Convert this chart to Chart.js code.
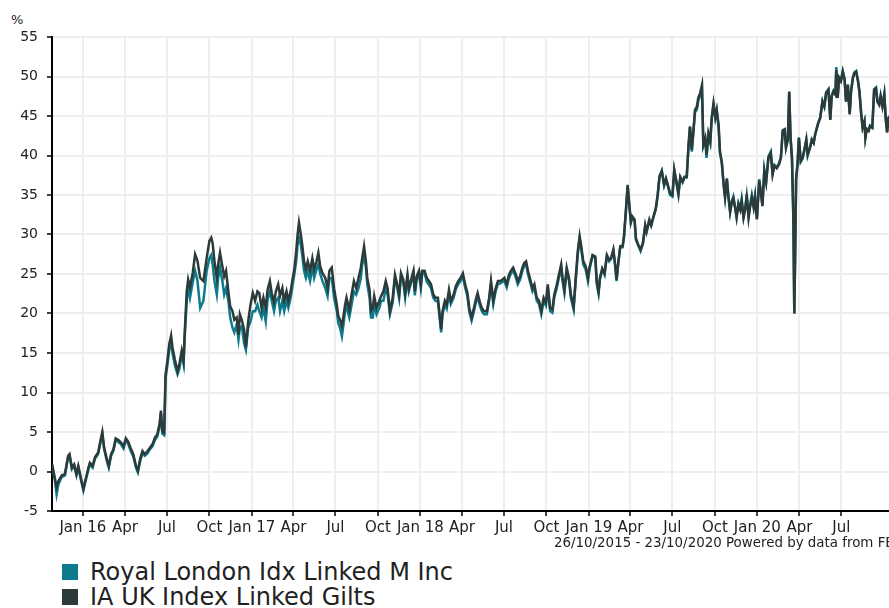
<!DOCTYPE html>
<html>
<head>
<meta charset="utf-8">
<script src="https://cdn.jsdelivr.net/npm/chart.js@4.4.1/dist/chart.umd.min.js"></script>
<style>
  body { margin: 0; width: 889px; height: 608px; overflow: hidden; position: relative; background: #fff; font-family: "DejaVu Sans", Verdana, sans-serif; color: #222; }
  #pct { position: absolute; left: 11px; top: 12px; font-size: 13px; }
  #wrap { position: absolute; left: 0; top: 0; }
  #footer { position: absolute; left: 554px; top: 535px; font-size: 13.4px; white-space: nowrap; }
  .leg { position: absolute; left: 62px; font-size: 24px; white-space: nowrap; display: flex; align-items: center; height: 24px; }
  .leg span.box { display: inline-block; width: 16px; height: 16px; margin-right: 12px; }
</style>
</head>
<body>
<div id="pct">%</div>
<div id="wrap"><canvas id="perfChart" width="900" height="540"></canvas></div>
<div id="footer">26/10/2015 - 23/10/2020 Powered by data from FE</div>
<div class="leg" style="top:560px"><span class="box" style="background:#0e7b8c"></span>Royal London Idx Linked M Inc</div>
<div class="leg" style="top:585px"><span class="box" style="background:#2c3a3a"></span>IA UK Index Linked Gilts</div>
<script>
// days since 26/10/2015
const dayOffsets = [
  0, 6, 10, 14, 21, 28, 35, 38, 43, 48, 53, 57, 64, 68, 72, 79, 82, 88, 93, 100,
  105, 109, 113, 118, 123, 128, 133, 138, 144, 149, 155, 160, 165, 170, 176, 182, 186, 191, 196, 201,
  207, 212, 218, 223, 228, 233, 236, 239, 243, 246, 250, 254, 258, 261, 266, 272, 276, 281, 285, 288,
  292, 295, 299, 305, 310, 315,
  321, 328, 335, 341, 345, 348, 352, 357, 360, 364, 369, 373, 377, 382, 386, 391, 395, 400, 404, 407,
  411, 416, 420, 425, 430, 435, 440, 445, 449, 454, 458, 463, 467, 472, 476, 481, 485, 490, 494, 499,
  503, 508, 512, 517, 521, 525, 529, 532, 535, 539, 542, 546, 550, 554, 559, 564, 568, 573, 577, 581,
  586, 592, 597, 601, 606, 611, 617, 620, 624, 628, 631, 635, 638, 644, 649, 654, 659, 664, 669, 672,
  676, 680, 683, 688, 691, 695, 698, 703, 709, 713, 718, 723, 727,
  732, 738, 743, 747, 752, 756, 761, 765, 770, 773, 778, 783, 786, 790, 795, 799, 802, 807, 812, 817,
  821, 826, 831, 836, 839, 843, 846, 851, 855, 860, 864, 870, 875, 880, 885, 890, 895, 900, 904, 909,
  914, 919, 922, 927, 931, 936, 942, 947, 951, 956, 961, 966, 971, 976, 980, 985, 990, 994, 999, 1005,
  1009, 1014, 1019, 1023, 1027, 1031, 1036, 1041, 1045, 1050, 1055, 1060, 1065, 1070, 1074, 1079, 1084, 1088, 1093, 1098,
  1103, 1106, 1110, 1115, 1120, 1124, 1130, 1135, 1139, 1143, 1146, 1151, 1156, 1161, 1164,
  1166, 1171, 1177, 1180, 1184, 1187, 1192, 1197, 1202, 1207, 1211, 1216, 1220, 1223, 1227, 1231, 1236, 1239, 1243, 1247,
  1250, 1254, 1257, 1262, 1265, 1270, 1275, 1280, 1285, 1288, 1294, 1298, 1303, 1308, 1312, 1316, 1321, 1326, 1330, 1335,
  1339, 1344, 1348, 1352, 1357, 1361, 1366, 1370, 1375, 1379, 1382, 1386, 1390, 1393, 1397, 1400, 1404, 1408, 1411, 1415,
  1418, 1422, 1426, 1429, 1433, 1437, 1440, 1444, 1447, 1451, 1455, 1458, 1462, 1465, 1469, 1473, 1476, 1480, 1483, 1487,
  1491, 1494, 1498, 1502, 1505, 1509,
  1512, 1516, 1520, 1523, 1527, 1532, 1536, 1539, 1543, 1547, 1552, 1557, 1561, 1565, 1570, 1575, 1579, 1583, 1587, 1590,
  1594, 1597, 1600, 1603, 1606, 1608, 1610, 1612, 1615, 1618, 1622, 1626, 1630, 1634, 1637, 1642, 1646, 1650, 1653, 1657,
  1660, 1664, 1669, 1673, 1677, 1682, 1686, 1689, 1693, 1697, 1699, 1702, 1705, 1709, 1713, 1717, 1720, 1724, 1728, 1731,
  1735, 1738, 1742, 1746, 1749, 1753, 1756, 1760, 1762, 1765, 1769, 1772, 1777, 1781, 1785, 1788, 1792, 1795, 1799, 1803,
  1806, 1809, 1812, 1824
];

const iaGilts = [
  1.0, -0.8, -2.0, -1.2, -0.5, -0.3, 2.0, 2.2, 0.5, 0.9, -0.3, 0.7, -1.2, -2.2, -1.2, 0.5, 1.1, 0.7, 1.8, 2.4,
  3.9, 5.0, 3.0, 1.8, 0.7, 2.2, 2.8, 4.2, 4.0, 3.7, 3.2, 4.2, 3.8, 3.0, 2.2, 0.7, 0.1, 1.6, 2.6, 2.2,
  2.6, 3.0, 3.5, 4.3, 4.7, 6.0, 7.7, 5.1, 4.9, 12.3, 14.0, 16.1, 17.2, 15.7, 14.2, 12.7, 13.6, 15.3, 14.0, 18.2,
  22.9, 24.3, 23.3, 25.2, 27.5, 26.7,
  24.5, 24.1, 27.0, 29.2, 29.6, 28.9, 26.6, 24.5, 26.2, 27.7, 26.0, 24.7, 25.4, 22.8, 20.9, 20.3, 19.2, 19.5, 17.3, 19.9,
  19.2, 18.0, 15.7, 19.0, 21.1, 22.6, 21.6, 22.8, 22.6, 20.7, 22.0, 20.7, 23.0, 24.1, 22.6, 21.4, 22.8, 23.7, 22.2, 23.2,
  21.6, 22.8, 21.6, 22.8, 24.3, 25.6, 27.9, 30.0, 31.5, 30.0, 28.7, 26.6, 25.6, 26.6, 25.4, 27.0, 25.6, 26.6, 27.7, 26.0,
  25.1, 24.5, 23.2, 25.4, 25.8, 23.2, 21.1, 19.7, 19.2, 18.4, 19.5, 21.1, 22.0, 20.5, 22.4, 24.1, 23.2, 24.5, 25.8, 27.0,
  28.5, 26.6, 24.5, 23.0, 20.3, 20.7, 22.2, 20.7, 21.6, 22.2, 22.8, 24.1, 23.2,
  20.3, 22.0, 24.9, 23.9, 22.4, 25.1, 24.3, 22.6, 24.9, 23.2, 24.3, 25.4, 22.8, 24.7, 25.4, 23.7, 25.4, 25.4, 24.5, 24.1,
  23.7, 22.4, 22.0, 22.0, 20.3, 18.0, 20.3, 21.6, 21.1, 23.0, 21.6, 22.4, 23.5, 24.1, 24.5, 25.1, 23.7, 22.6, 20.7, 19.5,
  20.7, 22.0, 22.6, 21.4, 20.7, 20.3, 20.3, 22.0, 24.1, 21.6, 23.2, 24.1, 24.1, 24.3, 24.5, 23.7, 24.9, 25.4, 25.8, 24.9,
  24.1, 24.7, 25.8, 26.4, 26.6, 25.4, 24.3, 23.2, 23.7, 22.0, 21.6, 20.3, 22.0, 21.4, 23.7, 20.7, 20.5, 22.4, 23.5, 24.9,
  26.2, 24.5, 23.0, 25.8, 24.5, 22.4, 20.9, 24.9, 27.9, 29.8, 28.7, 26.6, 26.0, 24.5, 25.8,
  26.2, 27.4, 27.2, 24.1, 22.8, 24.5, 25.7, 25.1, 27.4, 26.8, 27.0, 28.1, 26.2, 24.3, 26.6, 28.5, 28.5, 29.7, 32.9, 36.3,
  34.2, 31.6, 32.3, 31.9, 29.5, 28.7, 28.1, 28.9, 31.2, 30.4, 31.9, 31.2, 32.3, 33.3, 35.0, 37.3, 38.0, 36.3, 37.1, 36.1,
  35.2, 35.0, 38.2, 36.9, 35.2, 37.3, 36.7, 37.3, 37.3, 41.4, 43.7, 40.7, 43.5, 45.8, 46.2, 47.3, 47.9, 48.9, 41.4, 42.2,
  40.1, 42.8, 41.8, 44.7, 46.6, 44.9, 45.8, 43.9, 40.5, 39.2, 36.3, 34.8, 37.1, 35.0, 32.9, 34.2, 34.6, 33.3, 32.1, 33.8,
  33.1, 34.2, 32.1, 33.3, 34.8, 32.1,
  33.4, 34.7, 33.4, 34.7, 31.9, 36.8, 35.1, 33.6, 38.0, 36.6, 39.7, 40.3, 37.6, 38.7, 38.4, 38.9, 39.7, 43.1, 43.3, 41.0,
  42.0, 48.1, 42.2, 39.7, 32.1, 20.0, 27.9, 37.2, 38.9, 42.2, 39.3, 39.7, 40.8, 42.0, 40.1, 41.0, 42.0, 41.6, 42.6, 43.5,
  44.1, 44.7, 46.8, 46.2, 47.9, 48.3, 44.5, 47.5, 48.1, 47.7, 50.8, 47.3, 49.8, 49.4, 50.6, 49.6, 46.8, 48.9, 45.2, 48.1,
  49.8, 50.4, 50.6, 49.4, 48.1, 45.2, 43.5, 44.3, 42.2, 43.3, 43.1, 43.7, 43.5, 48.3, 48.5, 46.8, 46.4, 47.5, 46.2, 47.7,
  44.7, 42.9, 44.7, 45.5
];

const royalLondon = [
  0.8, -1.0, -2.9, -1.6, -0.7, -0.5, 1.9, 2.0, 0.3, 0.7, -0.5, 0.5, -1.4, -2.4, -1.4, 0.3, 0.9, 0.5, 1.6, 2.2,
  3.7, 4.8, 2.8, 1.5, 0.5, 2.0, 2.6, 4.0, 3.7, 3.5, 2.9, 4.0, 3.5, 2.7, 1.9, 0.5, -0.1, 1.3, 2.3, 2.0,
  2.3, 2.8, 3.2, 4.0, 4.4, 5.7, 7.4, 4.8, 4.6, 11.8, 13.5, 15.4, 16.4, 15.0, 13.5, 12.3, 13.0, 14.9, 13.6, 17.6,
  21.6, 23.5, 22.0, 24.0, 25.4, 24.2,
  20.7, 21.6, 25.4, 27.0, 27.4, 26.2, 24.1, 22.4, 24.5, 25.8, 24.1, 22.4, 23.2, 21.6, 19.5, 18.2, 17.6, 18.6, 16.7, 18.2,
  18.4, 16.3, 15.4, 18.2, 19.0, 20.3, 20.3, 21.1, 20.3, 19.5, 20.7, 19.0, 21.8, 22.8, 21.6, 20.3, 21.6, 22.0, 20.3, 21.6,
  20.3, 21.6, 20.7, 22.0, 23.5, 25.0, 26.6, 28.7, 29.6, 28.7, 27.4, 25.4, 24.5, 25.4, 24.1, 25.8, 24.5, 25.6, 26.2, 25.0,
  24.1, 23.2, 22.2, 24.5, 24.5, 22.0, 20.3, 18.8, 18.2, 17.1, 18.4, 20.3, 20.9, 19.5, 21.1, 22.8, 22.4, 23.2, 24.5, 26.2,
  27.4, 25.8, 23.7, 22.0, 19.5, 19.5, 21.1, 19.9, 20.7, 21.6, 21.6, 23.2, 22.4,
  19.9, 21.4, 24.5, 23.5, 21.9, 24.7, 23.9, 22.0, 24.5, 22.8, 23.9, 25.0, 22.3, 24.3, 25.0, 23.2, 25.0, 25.1, 24.0, 23.6,
  23.2, 22.0, 21.6, 21.5, 19.8, 17.6, 19.9, 21.1, 20.6, 22.6, 21.2, 22.0, 23.1, 23.7, 24.1, 24.7, 23.3, 22.1, 20.2, 19.1,
  20.3, 21.6, 22.1, 21.0, 20.3, 19.9, 19.9, 21.6, 23.7, 21.2, 22.8, 23.7, 23.8, 24.0, 24.1, 23.3, 24.5, 25.0, 25.5, 24.5,
  23.7, 24.3, 25.4, 26.0, 26.3, 25.0, 23.9, 22.8, 23.3, 21.6, 21.2, 19.9, 21.6, 21.0, 23.3, 20.3, 20.1, 22.0, 23.1, 24.5,
  25.7, 24.1, 22.6, 25.4, 24.1, 22.0, 20.5, 24.5, 27.5, 29.4, 28.3, 26.2, 25.6, 24.1, 25.4,
  26.0, 27.3, 27.0, 23.8, 22.5, 24.3, 25.6, 24.9, 27.3, 26.6, 26.9, 28.0, 26.0, 24.1, 26.5, 28.4, 28.4, 29.6, 32.7, 36.1,
  34.0, 31.5, 32.1, 31.8, 29.3, 28.6, 27.9, 28.8, 31.0, 30.3, 31.7, 31.1, 32.2, 33.2, 34.9, 37.4, 38.1, 36.2, 37.0, 35.9,
  35.0, 34.8, 38.1, 36.8, 35.0, 37.2, 36.6, 37.2, 37.2, 41.2, 43.6, 40.5, 43.4, 45.5, 45.8, 46.9, 47.5, 48.6, 41.2, 42.0,
  39.7, 42.6, 41.6, 44.5, 46.4, 44.7, 45.6, 43.5, 40.3, 39.0, 36.2, 34.6, 37.0, 34.9, 32.8, 34.3, 34.8, 33.4, 32.3, 34.0,
  33.3, 34.5, 32.3, 33.5, 35.1, 32.3,
  33.6, 35.0, 33.6, 34.9, 32.0, 37.0, 35.2, 33.7, 38.2, 36.7, 39.9, 40.5, 37.7, 38.8, 38.5, 39.0, 39.8, 43.2, 43.3, 41.0,
  42.0, 48.0, 42.1, 39.6, 32.0, 20.0, 27.8, 37.0, 38.8, 42.3, 39.2, 39.6, 40.7, 42.0, 40.0, 41.0, 42.0, 41.6, 42.6, 43.5,
  44.2, 44.8, 46.9, 46.2, 48.0, 48.4, 44.6, 47.6, 48.2, 47.8, 51.2, 47.4, 49.9, 49.5, 50.7, 49.7, 46.9, 49.0, 45.3, 48.2,
  49.9, 50.5, 50.7, 49.5, 48.2, 45.3, 43.6, 44.4, 42.3, 43.4, 43.2, 43.8, 43.6, 48.4, 48.6, 46.9, 46.5, 47.6, 46.3, 47.8,
  44.8, 43.0, 44.8, 45.6
];

// quarter ticks on the x axis (days since 26/10/2015)
const tickDays = [67, 158, 249, 341, 433, 523, 614, 706, 798, 888, 979, 1071, 1163, 1253, 1344, 1436, 1528, 1619, 1710];
const tickLabels = ['Jan 16', 'Apr', 'Jul', 'Oct', 'Jan 17', 'Apr', 'Jul', 'Oct', 'Jan 18', 'Apr', 'Jul',
                    'Oct', 'Jan 19', 'Apr', 'Jul', 'Oct', 'Jan 20', 'Apr', 'Jul'];

const yMin = -5, yMax = 55, yStep = 5;
const lastDay = 1824;

function toPoints(values) {
    return values.map((v, i) => ({ x: dayOffsets[i], y: v }));
}

const yFont = { family: '"DejaVu Sans", Verdana, sans-serif', size: 14 };
const xFont = { family: '"DejaVu Sans", Verdana, sans-serif', size: 15 };

new Chart(document.getElementById('perfChart'), {
    type: 'line',
    data: {
        datasets: [
            {
                label: 'IA UK Index Linked Gilts',
                data: toPoints(iaGilts),
                borderColor: '#2c3a3a',
                borderWidth: 2.5,
                pointRadius: 0,
                tension: 0
            },
            {
                label: 'Royal London Idx Linked M Inc',
                data: toPoints(royalLondon),
                borderColor: '#0e7b8c',
                borderWidth: 2.5,
                pointRadius: 0,
                tension: 0
            }
        ]
    },
    options: {
        responsive: false,
        animation: false,
        layout: { padding: { top: 37, right: 6, left: 0, bottom: 0 } },
        plugins: { legend: { display: false }, tooltip: { enabled: false } },
        scales: {
            x: {
                type: 'linear',
                min: 0,
                max: lastDay,
                afterBuildTicks: scale => { scale.ticks = tickDays.map(d => ({ value: d })); },
                afterFit: scale => { scale.height = 29; },
                ticks: {
                    autoSkip: false,
                    maxRotation: 0,
                    padding: 3,
                    color: '#222',
                    font: xFont,
                    callback: (value) => {
                        const i = tickDays.indexOf(value);
                        return i >= 0 ? tickLabels[i] : '';
                    }
                },
                grid: { color: '#eeeeee', lineWidth: 2, tickColor: '#000', tickLength: 5, tickWidth: 1.5 },
                border: { color: '#000', width: 2 }
            },
            y: {
                min: yMin,
                max: yMax,
                afterFit: scale => { scale.width = 52; },
                ticks: { stepSize: yStep, padding: 9, color: '#222', font: yFont },
                grid: { color: '#eeeeee', lineWidth: 2, tickColor: '#000', tickLength: 5, tickWidth: 1.5 },
                border: { color: '#000', width: 2 }
            }
        }
    }
});
</script>
</body>
</html>
